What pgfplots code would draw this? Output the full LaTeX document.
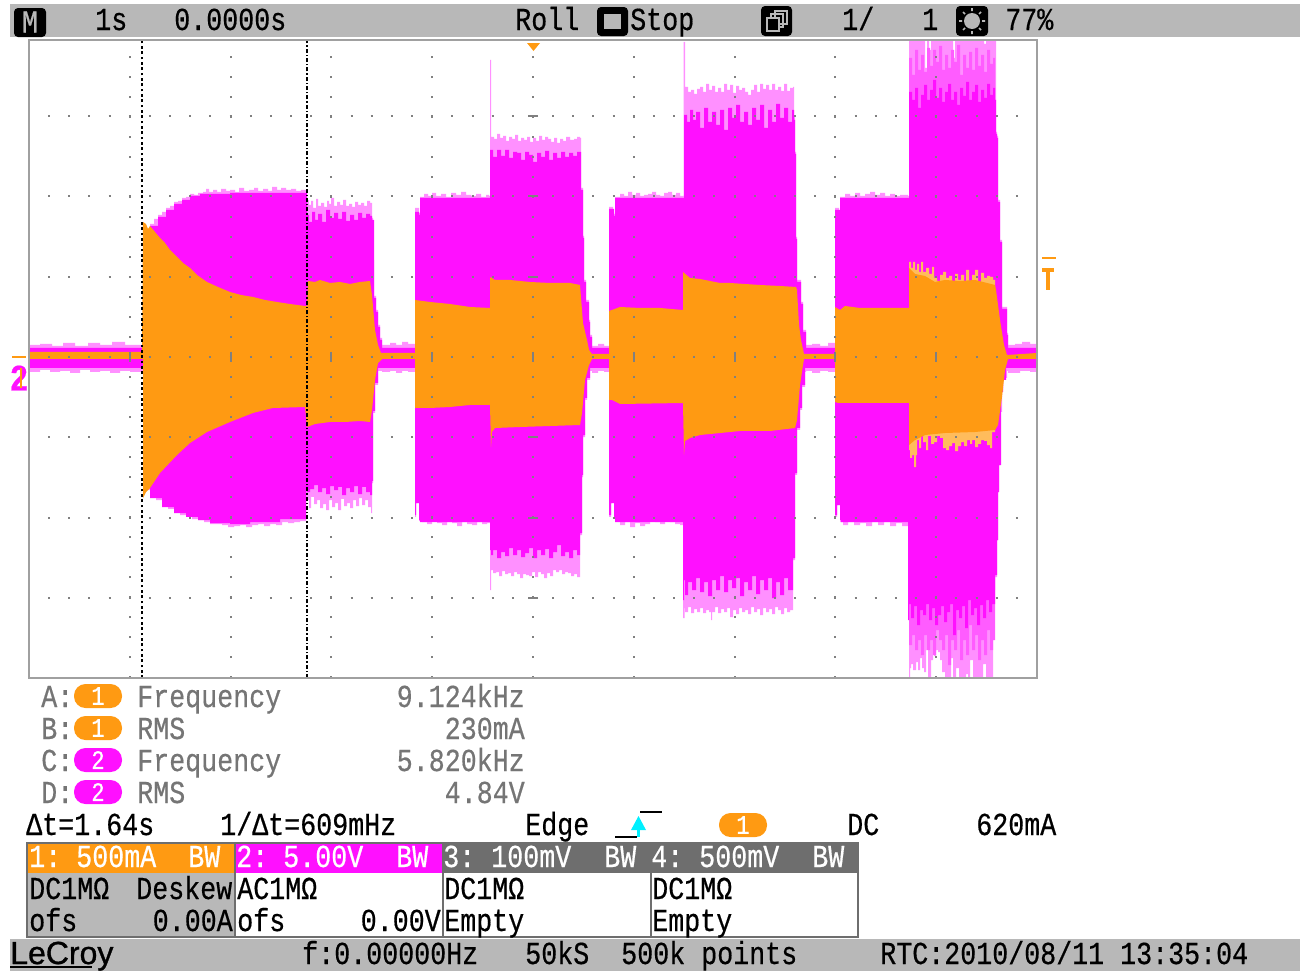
\documentclass[border=0pt]{standalone}
\usepackage{fontspec}
\setmainfont{Liberation Mono}[FakeStretch=0.833,FakeBold=0.5]
\newfontfamily\logofont{Liberation Sans}[FakeBold=1]
\usepackage{pgfplots}
\usepackage{pgfplotstable}
\pgfplotsset{compat=1.18}
\definecolor{magS}{HTML}{FF10FF}
\definecolor{magM}{HTML}{FF5CFF}
\definecolor{magL}{HTML}{FF90FF}
\definecolor{orS}{HTML}{FF9A12}
\definecolor{orL}{HTML}{FFBC5C}
\definecolor{barG}{HTML}{B8B8B8}
\definecolor{hdrG}{HTML}{6E6E6E}
\definecolor{txtG}{HTML}{757575}
\definecolor{gridG}{HTML}{808080}
\definecolor{frameG}{HTML}{A0A0A0}
\definecolor{trigC}{HTML}{00F0FF}
% Envelopes of the two traces as read from the screen: horizontal and vertical screen position.
\pgfplotstableread[row sep=\\]{px py\\
29 345\\40 344\\52 346\\63 343\\75 346\\88 343\\100 345\\112 342\\125 345\\142 344\\143 240\\147 230\\150 224\\154 219\\158 215\\162 212\\166 208\\170 206\\174 202\\178 201\\182 198\\186 197\\190 194\\194 195\\198 193\\203 192\\206 189\\209 192\\213 190\\217 192\\221 189\\226 191\\230 190\\235 192\\239 188\\244 191\\249 190\\254 188\\258 191\\263 189\\268 191\\272 187\\277 190\\281 188\\286 190\\291 189\\296 191\\301 190\\306 192\\
307 200\\309 205\\311 201\\313 208\\316 199\\318 206\\321 203\\324 207\\327 201\\329 204\\331 198\\334 206\\337 202\\340 205\\343 200\\346 206\\349 204\\352 207\\355 202\\358 205\\361 203\\364 206\\367 201\\370 203\\372 218\\373 260\\374 296\\376 310\\378 325\\380 338\\382 345\\
390 343\\396 345\\402 342\\408 344\\415 344\\415 208\\419 213\\420 197\\424 194\\428 196\\432 193\\436 196\\441 194\\446 197\\451 193\\456 195\\461 192\\466 195\\471 196\\476 194\\481 197\\486 195\\489 196\\
490 60\\491 60\\491 137\\494 139\\497 134\\500 138\\503 136\\506 141\\509 137\\512 139\\515 135\\518 141\\521 138\\524 140\\527 137\\530 142\\533 138\\536 141\\539 136\\542 140\\545 137\\548 139\\551 142\\554 138\\557 143\\560 139\\563 141\\566 137\\570 140\\574 139\\577 137\\580 138\\581 188\\583 236\\584 280\\586 300\\589 320\\590 335\\592 346\\
598 344\\604 346\\609 345\\609 207\\613 212\\614 214\\615 197\\620 194\\624 196\\628 192\\632 195\\636 193\\640 196\\644 195\\648 194\\652 192\\656 195\\660 196\\664 193\\668 192\\672 195\\676 193\\680 196\\683 196\\
683.5 42\\684.5 42\\685 87\\688 92\\691 90\\694 94\\697 89\\700 87\\703 92\\706 84\\709 90\\712 86\\715 92\\718 88\\721 92\\724 84\\727 90\\730 85\\733 93\\736 86\\739 90\\742 88\\745 92\\748 95\\751 90\\754 85\\757 92\\760 84\\763 89\\766 85\\769 90\\772 84\\775 90\\778 87\\781 91\\784 84\\787 91\\790 88\\793 87\\794 117\\795 152\\796 237\\797 280\\801 302\\803 330\\806 345\\
812 344\\820 346\\828 343\\835 345\\835 208\\839 212\\840 197\\845 194\\850 196\\855 193\\860 196\\865 194\\870 192\\875 195\\880 193\\885 196\\890 194\\895 196\\900 195\\908 196\\
909 30\\925 30\\925 68\\927 68\\927 30\\929 30\\929 50\\931 50\\931 30\\953 30\\953 58\\955 58\\955 30\\984 30\\984 44\\986 44\\986 30\\996 30\\996 132\\997 136\\998 200\\1000 240\\1002 307\\1007 333\\1008 345\\1015 344\\1022 342\\1030 344\\1037 343\\
1037 372\\1030 371\\1020 373\\1008 371\\1007 378\\1003 390\\1002 412\\1000 465\\999 490\\998 540\\997 577\\995 590\\993 680\\987 680\\986 664\\984 664\\983 680\\974 680\\973 660\\971 660\\970 680\\968 674\\966 680\\960 680\\959 668\\957 668\\956 680\\954 680\\953 658\\952 658\\951 680\\946 680\\945 672\\942 660\\940 652\\938 650\\936 656\\934 648\\933 660\\931 680\\929 680\\928 647\\927 650\\926 672\\924 668\\922 658\\920 670\\918 662\\916 670\\913 664\\911 668\\910 680\\909 680\\
909 527\\908 526\\902 523\\896 526\\890 522\\884 525\\878 522\\872 526\\866 523\\860 525\\854 522\\848 525\\843 522\\840 521\\840 505\\837 505\\837 517\\835 517\\835 372\\828 371\\820 373\\812 371\\806 372\\805 387\\802 410\\800 430\\797 475\\795 560\\793 610\\
790 612\\787 608\\784 614\\781 610\\778 607\\775 614\\772 609\\769 612\\766 608\\763 615\\760 609\\757 612\\754 607\\751 614\\748 610\\745 612\\742 608\\739 614\\736 610\\733 617\\730 608\\727 612\\724 609\\721 613\\718 607\\715 612\\712 620\\711 612\\709 610\\706 613\\703 608\\700 612\\697 609\\694 613\\691 607\\688 612\\685 608\\684.5 618\\683.5 618\\683 525\\
680 524\\675 522\\670 521\\665 524\\660 522\\655 521\\650 524\\645 526\\640 523\\635 527\\630 522\\625 525\\620 521\\615 519\\614 503\\611 503\\611 517\\609 517\\609 372\\604 371\\598 373\\592 371\\590 380\\587 400\\585 437\\583 477\\582 535\\580 577\\
577 574\\574 576\\571 573\\568 572\\565 574\\562 570\\559 572\\556 570\\553 576\\550 573\\547 578\\544 574\\541 572\\538 577\\535 572\\532 576\\529 575\\526 574\\523 578\\520 574\\517 572\\514 576\\511 573\\508 574\\505 571\\502 576\\499 572\\496 573\\493 570\\491 571\\491 590\\490 590\\490 523\\
487 524\\482 522\\477 525\\472 524\\467 522\\462 526\\457 523\\452 522\\447 525\\442 523\\437 521\\432 524\\427 522\\422 521\\419 518\\419 503\\416 503\\416 517\\415 517\\415 372\\408 371\\402 373\\396 371\\390 372\\382 371\\380 371\\378 385\\375 413\\373 483\\372 513\\371 507\\
368 500\\365 505\\362 498\\359 506\\356 500\\353 508\\350 503\\347 506\\344 499\\341 510\\338 503\\335 507\\332 500\\329 510\\326 504\\323 508\\320 500\\317 504\\314 497\\311 508\\309 500\\307 498\\
306 521\\300 522\\294 523\\288 522\\282 525\\276 524\\270 526\\264 524\\258 525\\252 527\\246 525\\240 526\\234 527\\228 525\\222 524\\216 524\\210 522\\204 520\\198 519\\192 517\\186 515\\180 512\\174 509\\168 505\\162 500\\156 495\\150 490\\143 480\\143 372\\130 371\\120 373\\110 371\\100 372\\90 370\\80 373\\70 371\\60 372\\50 370\\40 372\\29 371\\
}\chtwofringe
\pgfplotstableread[row sep=\\]{px py\\
909 58\\912 75\\915 50\\918 70\\921 55\\924 72\\927 48\\930 66\\933 50\\936 62\\939 46\\942 70\\945 55\\948 68\\951 50\\954 62\\957 45\\960 75\\963 55\\966 68\\969 52\\972 70\\975 48\\978 66\\981 55\\984 72\\987 50\\990 64\\993 58\\995 60\\
995 640\\993 650\\990 630\\987 655\\984 640\\981 660\\978 635\\975 650\\972 625\\969 655\\966 640\\963 660\\960 630\\957 650\\954 640\\951 665\\948 635\\945 650\\942 640\\939 630\\936 655\\933 640\\930 650\\927 635\\924 655\\921 640\\918 650\\915 635\\912 645\\909 640\\
}\chtwomid
\pgfplotstableread[row sep=\\]{px py\\
29 348\\142 348\\143 240\\150 226\\158 217\\166 210\\174 204\\182 200\\190 196\\200 194\\230 193\\307 194\\
307 215\\309 222\\312 212\\315 220\\318 214\\322 222\\326 210\\330 218\\334 213\\338 219\\342 212\\346 221\\350 215\\354 220\\358 213\\362 218\\366 214\\370 216\\372 220\\374 298\\376 312\\378 327\\380 340\\382 348\\415 348\\
415 212\\419 215\\420 198\\489 198\\490 150\\493 157\\497 150\\501 156\\505 150\\509 158\\513 152\\517 153\\521 160\\525 152\\529 155\\533 162\\537 153\\541 157\\545 151\\549 160\\553 153\\557 158\\561 152\\565 157\\569 153\\573 156\\577 152\\580 152\\581 190\\583 238\\584 282\\586 302\\589 322\\590 337\\592 348\\609 348\\
609 209\\614 216\\615 198\\683 198\\684 115\\687 122\\690 110\\693 120\\696 112\\700 128\\704 108\\708 122\\712 112\\716 125\\720 110\\724 130\\728 108\\732 118\\736 105\\740 122\\744 112\\748 125\\752 108\\756 120\\760 105\\764 128\\768 110\\772 122\\776 104\\780 118\\784 108\\788 122\\792 110\\794 120\\795 154\\796 239\\797 282\\801 304\\803 332\\806 348\\835 348\\
835 210\\840 214\\840 198\\908 198\\909 92\\912 100\\915 88\\918 108\\921 95\\924 85\\927 100\\930 90\\933 80\\936 98\\939 88\\942 102\\945 92\\948 84\\951 100\\954 92\\957 105\\960 88\\963 96\\966 82\\969 100\\972 92\\975 85\\978 102\\981 90\\984 98\\987 84\\990 95\\993 88\\995 100\\996 134\\997 138\\998 202\\1000 242\\1002 309\\1007 335\\1008 348\\1037 348\\
1037 368\\1008 368\\1006 380\\1003 392\\1001 465\\999 492\\998 540\\997 575\\995 604\\992 612\\989 600\\986 618\\983 605\\980 625\\977 608\\974 615\\971 600\\968 628\\965 606\\962 618\\959 610\\956 635\\953 604\\950 612\\947 622\\944 606\\941 615\\938 625\\935 608\\932 620\\929 604\\926 615\\923 610\\920 625\\917 606\\914 618\\911 604\\909 620\\908 522\\841 520\\840 505\\837 505\\837 515\\835 515\\835 368\\806 368\\
805 385\\802 408\\800 428\\797 473\\795 558\\793 590\\792 590\\788 578\\784 595\\780 582\\776 598\\772 578\\768 590\\764 580\\760 594\\756 576\\752 590\\748 582\\744 596\\740 578\\736 588\\732 580\\728 592\\724 576\\720 590\\716 580\\712 596\\708 582\\704 592\\700 578\\696 590\\692 582\\688 595\\685 580\\684 600\\683 522\\
615 518\\614 503\\611 503\\611 515\\609 515\\609 368\\592 368\\590 378\\587 398\\585 435\\583 475\\582 533\\580 555\\577 550\\573 558\\569 552\\565 556\\561 545\\557 552\\553 558\\549 549\\545 555\\541 550\\537 558\\533 548\\529 553\\525 557\\521 550\\517 555\\513 548\\509 556\\505 552\\501 558\\497 550\\493 555\\491 550\\490 522\\
420 520\\419 503\\416 503\\416 515\\415 515\\415 368\\380 368\\378 383\\375 411\\373 481\\372 495\\370 492\\366 487\\362 494\\358 486\\354 492\\350 488\\346 495\\342 487\\338 490\\334 486\\330 494\\326 488\\322 492\\318 485\\314 489\\310 492\\307 488\\
306 519\\280 522\\250 524\\230 523\\210 520\\198 517\\186 513\\174 507\\162 498\\150 488\\143 478\\143 368\\29 368\\
}\chtwosolid
\pgfplotstableread[row sep=\\]{px py\\
909 262\\911 268\\913 262\\915 270\\917 264\\919 272\\921 262\\923 272\\926 268\\929 274\\932 267\\934 278\\937 281\\940 275\\943 272\\946 278\\949 276\\952 283\\955 274\\958 280\\961 275\\964 282\\966 270\\969 281\\972 275\\975 270\\978 282\\981 273\\984 278\\987 276\\990 277\\993 280\\995 285\\
995 432\\992 448\\990 445\\987 441\\984 440\\981 444\\978 447\\975 440\\972 444\\970 440\\967 446\\964 442\\961 446\\958 451\\955 443\\952 446\\949 450\\946 448\\943 438\\940 436\\937 442\\934 444\\931 436\\928 450\\926 442\\923 436\\921 448\\919 440\\917 455\\916 467\\914 455\\912 458\\910 450\\909 430\\
}\chonefringe
\pgfplotstableread[row sep=\\]{px py\\
29 352\\142 352\\143 222\\146 224\\148 229\\150 226\\155 232\\160 238\\165 243\\170 250\\177 257\\183 263\\190 268\\197 275\\207 282\\218 287\\230 292\\241 295\\253 297\\265 300\\277 302\\290 304\\305 306\\307 306\\
308 281\\315 282\\320 280\\330 283\\340 282\\350 284\\360 282\\370 281\\372 295\\375 330\\378 345\\381 353\\415 353\\415 300\\430 302\\450 304\\470 307\\490 308\\490 277\\495 280\\510 280\\530 282\\550 283\\570 283\\580 285\\583 323\\587 340\\589 350\\592 354\\609 354\\
609 311\\612 310\\620 307\\640 308\\660 308\\683 310\\683 272\\690 278\\700 279\\710 281\\720 283\\730 283\\745 284\\760 285\\780 286\\796 287\\797 290\\799 325\\801 340\\804 354\\835 354\\
835 307\\840 310\\845 306\\860 308\\880 308\\909 308\\909 268\\915 274\\925 276\\935 282\\945 280\\960 281\\975 280\\995 285\\996 290\\1000 320\\1004 345\\1007 355\\1037 353\\
1037 359\\1008 359\\1005 370\\1002 397\\998 425\\995 430\\975 432\\945 433\\925 435\\915 440\\909 445\\909 403\\838 403\\835 402\\835 359\\804 359\\803 365\\800 385\\797 420\\795 428\\770 431\\740 431\\720 433\\700 435\\690 438\\685 441\\684 455\\683 403\\620 404\\612 400\\609 400\\609 359\\592 359\\589 365\\585 380\\582 413\\580 425\\550 426\\520 427\\495 428\\492 432\\491 447\\490 405\\470 405\\450 407\\430 408\\415 408\\415 359\\382 359\\378 363\\375 380\\372 410\\370 422\\360 421\\345 422\\330 422\\315 424\\307 427\\
305 407\\273 408\\253 413\\230 422\\207 432\\190 443\\177 455\\160 473\\150 488\\146 492\\143 498\\143 359\\29 359\\
}\chonesolid
\pgfplotsset{/pgfplots/table/pix/.style={x expr=(\thisrow{px}-29)/100.8, y expr=(357-\thisrow{py})/80.25}}
\newcommand\tl[4][black]{\node[anchor=base west,inner sep=0pt,text=#1] at (#2,#3) {\fontsize{24}{24}\selectfont #4};}
\newcommand\tr[4][black]{\node[anchor=base east,inner sep=0pt,text=#1] at (#2,#3) {\fontsize{24}{24}\selectfont #4};}
\newcommand\pill[4]{\fill[#3,rounded corners=11.5*0.75pt] (#1,#2) rectangle ++(48,24);
  \node[inner sep=0pt,text=white] at (#1+24,#2+12) {\fontsize{20}{20}\selectfont #4};}
\begin{document}
\begin{tikzpicture}[x=0.75pt,y=-0.75pt]
\path[use as bounding box] (0,0) rectangle (1308,971);
\fill[barG] (10,4) rectangle (1300,37);
\fill[barG] (10,939) rectangle (1300,971);
\begin{axis}[
  at={(21.75pt,-508.5pt)},anchor=south west,scale only axis,
  width=756pt,height=478.875pt,
  xmin=0,xmax=10,ymin=-4,ymax=3.956,
  axis on top,
  xtick={0,...,10},ytick={-3,-2,-1,0,1,2,3},
  xticklabels={},yticklabels={},
  major tick length=0pt,
  grid=major,
  x grid style={gridG,line width=1.5pt,dash pattern=on 1.5pt off 13.5pt,dash phase=0pt},
  y grid style={gridG,line width=1.5pt,dash pattern=on 1.5pt off 13.62pt,dash phase=0.75pt},
  axis line style={frameG,line width=1.5pt},
]
\addplot[fill=magL,draw=none,const plot] table[pix] {\chtwofringe} -- cycle;
\addplot[fill=magM,draw=none,const plot] table[pix] {\chtwomid} -- cycle;
\addplot[fill=magS,draw=none,const plot] table[pix] {\chtwosolid} -- cycle;
\addplot[fill=orL,draw=none,const plot] table[pix] {\chonefringe} -- cycle;
\addplot[fill=orS,draw=none] table[pix] {\chonesolid} -- cycle;
\addplot[only marks,mark=|,mark size=3.75pt,mark options={gridG,line width=1.5pt}] coordinates {(1,0)(2,0)(3,0)(4,0)(5,0)(6,0)(7,0)(8,0)(9,0)};
\addplot[only marks,mark=-,mark size=3.75pt,mark options={gridG,line width=1.5pt}] coordinates {(5,-3)(5,-2)(5,-1)(5,1)(5,2)(5,3)};
\addplot[black,line width=1.3pt,dash pattern=on 2pt off 2pt] coordinates {(1.12,-4)(1.12,3.956)};
\addplot[black,line width=1.3pt,dash pattern=on 3pt off 1.5pt on 1pt off 1.5pt] coordinates {(2.76,-4)(2.76,3.956)};
\end{axis}
% trigger and channel markers
\fill[orS] (527,43) -- (540,43) -- (533.5,51) -- cycle;
\draw[orS,line width=1.5pt] (1042,258) -- (1056,258);
\draw[orS,line width=2.6pt] (1042,270) -- (1054,270);
\draw[orS,line width=3.2pt] (1048,270) -- (1048,290);
\draw[orS,line width=1.5pt] (12,357) -- (26,357);
\node[inner sep=0pt,text=magS] at (19,378) {\fontsize{28}{28}\selectfont\bfseries 2};
\draw[orS,line width=2.2pt] (21,368) -- (21,388);
% top bar
\fill[black,rounded corners=3pt] (14,8) rectangle (46,37);
\node[inner sep=0pt,text=barG] at (30,22) {\fontsize{24}{24}\selectfont M};
\tl{95}{30}{1s}
\tl{174}{30}{0.0000s}
\tl{515}{30}{Roll}
\fill[black,rounded corners=3pt] (597,7) rectangle (628,36);
\fill[barG] (604,14) rectangle (621,29);
\tl{630}{30}{Stop}
\fill[black,rounded corners=3pt] (761,6) rectangle (792,36);
\draw[barG,line width=1.2pt] (775,11) rectangle (787,24) (771,14) rectangle (783,27);
\fill[black] (768,18) rectangle (780,30);
\draw[barG,line width=1.2pt] (767,18) rectangle (779,31);
\tl{842}{30}{1/}
\tl{922}{30}{1}
\fill[black,rounded corners=3pt] (956,6) rectangle (988,36);
\fill[barG] (972,21) circle[radius=8];
\draw[barG,line width=1.2pt] (972,8)--(972,11) (972,31)--(972,34) (959,21)--(962,21) (982,21)--(985,21) (963,12)--(965,14) (981,12)--(979,14) (963,30)--(965,28) (981,30)--(979,28);
\tl{1005}{30}{77\%}
% measurements
\tl[txtG]{41}{707}{A:} \pill{74}{684}{orS}{1} \tl[txtG]{137}{707}{Frequency} \tr[txtG]{525}{707}{9.124kHz}
\tl[txtG]{41}{739}{B:} \pill{74}{716}{orS}{1} \tl[txtG]{137}{739}{RMS} \tr[txtG]{525}{739}{230mA}
\tl[txtG]{41}{771}{C:} \pill{74}{748}{magS}{2} \tl[txtG]{137}{771}{Frequency} \tr[txtG]{525}{771}{5.820kHz}
\tl[txtG]{41}{803}{D:} \pill{74}{780}{magS}{2} \tl[txtG]{137}{803}{RMS} \tr[txtG]{525}{803}{4.84V}
% cursor and trigger line
\tl{26}{835}{Δt=1.64s}
\tl{220}{835}{1/Δt=609mHz}
\tl{525}{835}{Edge}
\draw[black,line width=1.2pt] (615,837) -- (637,837);
\draw[black,line width=1.2pt] (640,812) -- (662,812);
\draw[trigC,line width=1.6pt] (638.5,837) -- (638.5,825);
\fill[trigC] (631,830) -- (646,830) -- (638.5,816) -- cycle;
\pill{719}{813}{orS}{1}
\tl{847}{835}{DC}
\tl{976}{835}{620mA}
% channel table
\fill[orS] (27,843) rectangle (235,873);
\fill[barG] (27,873) rectangle (235,937);
\fill[magS] (235,843) rectangle (443,873);
\fill[hdrG] (443,843) rectangle (858,873);
\draw[hdrG,line width=1.2pt] (27,843) rectangle (858,937) (235,843)--(235,937) (443,843)--(443,937) (651,843)--(651,937);
\tl[white]{29}{867}{1:} \tl[white]{76}{867}{500mA} \tl[white]{188}{867}{BW}
\tl[white]{236}{867}{2:} \tl[white]{283}{867}{5.00V} \tl[white]{396}{867}{BW}
\tl[white]{443}{867}{3:} \tl[white]{491}{867}{100mV} \tl[white]{604}{867}{BW}
\tl[white]{651}{867}{4:} \tl[white]{699}{867}{500mV} \tl[white]{812}{867}{BW}
\tl{29}{899}{DC1MΩ} \tl{136}{899}{Deskew}
\tl{29}{931}{ofs} \tr{233}{931}{0.00A}
\tl{237}{899}{AC1MΩ}
\tl{237}{931}{ofs} \tr{441}{931}{0.00V}
\tl{444}{899}{DC1MΩ} \tl{444}{931}{Empty}
\tl{652}{899}{DC1MΩ} \tl{652}{931}{Empty}
% bottom bar
\node[anchor=base west,inner sep=0pt] at (10,964) {\fontsize{24}{24}\logofont LeCroy};
\draw[black,line width=1.5pt] (10,967) -- (92,967);
\tl{302}{964}{f:0.00000Hz}
\tl{525}{964}{50kS}
\tl{621}{964}{500k points}
\tl{880}{964}{RTC:2010/08/11 13:35:04}
\end{tikzpicture}
\end{document}
